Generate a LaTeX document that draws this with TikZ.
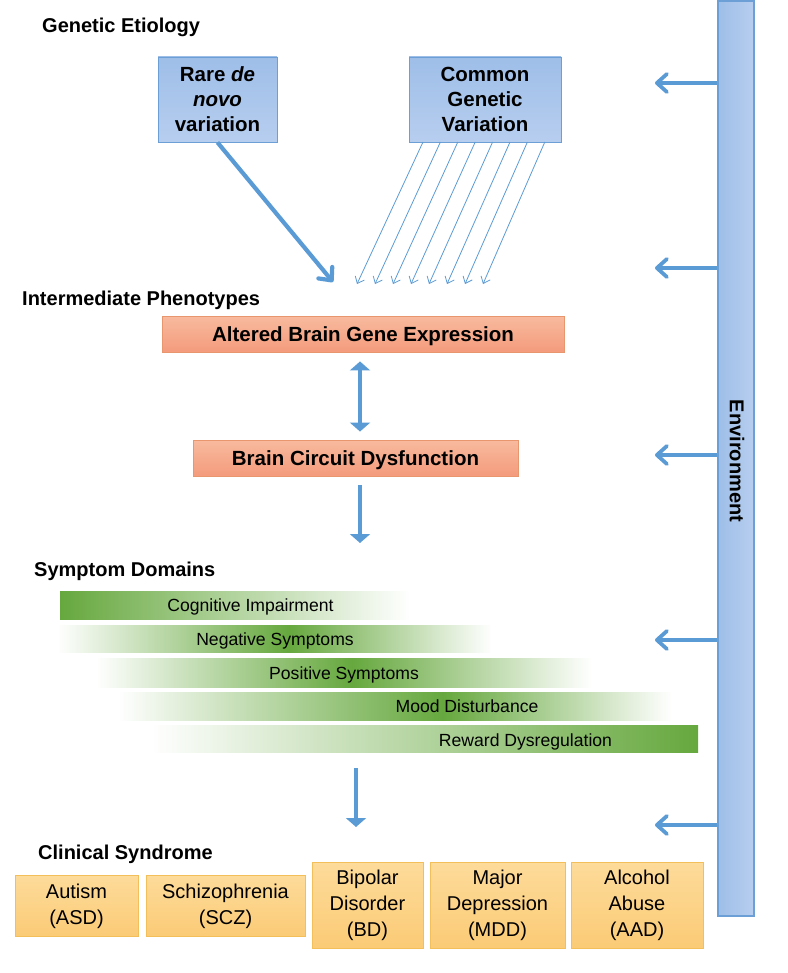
\documentclass[tikz,border=0pt]{standalone}
\usepackage{fontspec}
\setmainfont{Liberation Sans}
\usetikzlibrary{arrows.meta,calc}
\definecolor{arblue}{HTML}{5B9BD5}
\definecolor{bluetop}{HTML}{9EBEE8}
\definecolor{bluebot}{HTML}{B7CEEF}
\definecolor{blueline}{HTML}{6C9FD6}
\definecolor{saltop}{HTML}{F8BA9E}
\definecolor{salbot}{HTML}{F49B7C}
\definecolor{salline}{HTML}{E8966E}
\definecolor{ortop}{HTML}{FDDB9A}
\definecolor{orbot}{HTML}{FBCB76}
\definecolor{orline}{HTML}{F3BF5B}
\definecolor{grn}{HTML}{66A83E}
\tikzset{
  hdr/.style={anchor=west,inner sep=0pt,font=\fontsize{20}{24}\selectfont\bfseries},
  genbox/.style={draw=blueline,line width=0.9pt,top color=bluetop,bottom color=bluebot,
    align=center,inner sep=0pt,font=\fontsize{20.5}{25}\selectfont\bfseries},
  salbox/.style={draw=salline,line width=0.9pt,top color=saltop,bottom color=salbot,
    align=center,inner sep=0pt,minimum height=36pt,text height=14.7pt,text depth=0pt,
    font=\fontsize{20.5}{25}\selectfont\bfseries},
  orbox/.style={draw=orline,line width=0.9pt,top color=ortop,bottom color=orbot,
    align=center,inner sep=0pt,font=\fontsize{20}{26}\selectfont},
  symtxt/.style={inner sep=0pt,text height=12.6pt,text depth=0pt,font=\fontsize{17.6}{20}\selectfont},
  thinarr/.style={draw=arblue,line width=0.8pt,-{Straight Barb[length=6pt,width=10pt]}},
  thickarr/.style={draw=arblue,line width=4.2pt,-{Straight Barb[length=10pt,width=18pt,round]}},
  envarr/.style={draw=arblue,line width=3.8pt,-{Straight Barb[length=10pt,width=18pt,round]}},
  dblarr/.style={draw=arblue,line width=3.8pt,{Triangle[length=9pt,width=20pt]}-{Triangle[length=9pt,width=20pt]}},
  downarr/.style={draw=arblue,line width=3.8pt,-{Triangle[length=9pt,width=20pt]}}
}
\begin{document}
\begin{tikzpicture}[x=1pt,y=-1pt]
\useasboundingbox (0,0) rectangle (787,973);

% headers
\node[hdr] (h1) at (42,27) {Genetic Etiology};
\node[hdr] (h2) at (22,300) {Intermediate Phenotypes};
\node[hdr] (h3) at (34,571) {Symptom Domains};
\node[hdr] (h4) at (38,854) {Clinical Syndrome};

% environment bar
\node[draw=blueline,line width=1.8pt,left color=bluetop,right color=bluebot,
  minimum width=36pt,minimum height=915pt,inner sep=0pt] (env) at (736,458.5) {};
\node[rotate=-90,inner sep=0pt,font=\fontsize{20}{24}\selectfont\bfseries] (envt) at (737,461) {Environment};
\foreach \yy in {83,268,455,640,825}{
  \draw[envarr] (env.west |- 0,\yy) -- (655,\yy);
}

% genetic boxes
\node[genbox,minimum width=119pt,minimum height=85pt] (rare) at (217.5,99.5)
  {Rare \textit{de}\\\textit{novo}\\variation};
\node[genbox,minimum width=152pt,minimum height=85pt] (cgv) at (485,99.5)
  {Common\\Genetic\\Variation};

% arrows into intermediate phenotypes
\coordinate (rareend) at (333,282);
\draw[thickarr] (rare.south) -- (rareend);
\foreach \i in {0,...,7}{
  \coordinate (cs\i) at ({423+17.4*\i},142);
  \coordinate (ce\i) at ({357+18*\i},284);
  \draw[thinarr] (cs\i) -- (ce\i);
}

% intermediate phenotypes
\node[salbox,minimum width=402pt] (alt) at (363,334) {Altered Brain Gene Expression};
\node[salbox,minimum width=325pt] (circ) at (355.5,458) {Brain Circuit Dysfunction};
\draw[dblarr] ([xshift=-3pt,yshift=-9pt]alt.south) -- ([xshift=4.5pt,yshift=8pt]circ.north);
\coordinate (d1e) at (360,543);
\draw[downarr] ([xshift=4.5pt,yshift=-9pt]circ.south) -- (d1e);

% symptom domains
\fill[left color=grn,right color=white] (60,591) rectangle (410,619);
\node[symtxt] (s1) at (250.5,605.5) {Cognitive Impairment};

\fill[left color=white,right color=grn] (57,625) rectangle (289,652);
\fill[left color=grn,right color=white] (289,625) rectangle (492,652);
\node[symtxt] (s2) at (275,639) {Negative Symptoms};

\fill[left color=white,right color=grn] (96,658) rectangle (352,687);
\fill[left color=grn,right color=white] (352,658) rectangle (592,687);
\node[symtxt] (s3) at (344,673.5) {Positive Symptoms};

\fill[left color=white,right color=grn] (118,692) rectangle (443,720);
\fill[left color=grn,right color=white] (443,692) rectangle (672,720);
\node[symtxt] (s4) at (467,706.5) {Mood Disturbance};

\fill[left color=white,right color=grn] (150,725) rectangle (698,752);
\node[symtxt] (s5) at (525.5,740) {Reward Dysregulation};

\coordinate (d2s) at (356,768);
\coordinate (d2e) at (356,827);
\draw[downarr] (d2s) -- (d2e);

% clinical syndromes
\node[orbox,minimum width=123pt,minimum height=61pt] (asd) at (76.5,906) {Autism\\(ASD)};
\node[orbox,minimum width=159pt,minimum height=61pt] (scz) at (225.5,906) {Schizophrenia\\(SCZ)};
\node[orbox,minimum width=111pt,minimum height=86pt] (bd) at (367.5,905) {Bipolar\\Disorder\\(BD)};
\node[orbox,minimum width=135pt,minimum height=86pt] (mdd) at (497.5,905) {Major\\Depression\\(MDD)};
\node[orbox,minimum width=132pt,minimum height=86pt] (aad) at (637,905) {Alcohol\\Abuse\\(AAD)};
\end{tikzpicture}
\end{document}
